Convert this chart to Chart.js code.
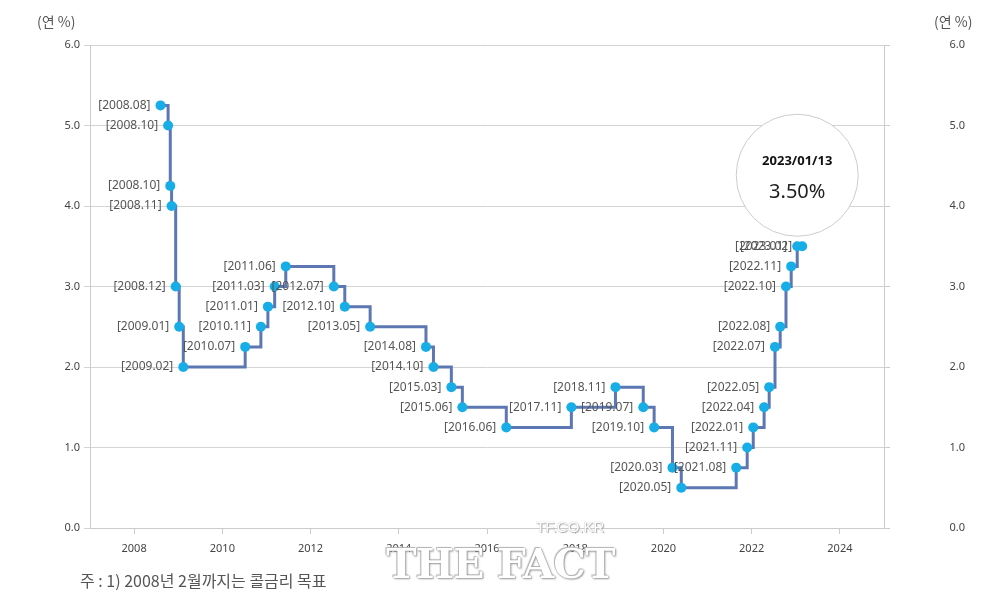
<!DOCTYPE html>
<html>
<head>
<meta charset="utf-8">
<script src="https://cdn.jsdelivr.net/npm/chart.js@4.4.0/dist/chart.umd.min.js"></script>
<style>
  body { margin: 0; background: #fff; font-family: "Noto Sans CJK KR", "Noto Sans", sans-serif; }
  #wrap { position: relative; width: 994px; height: 600px; }
  #note { position: absolute; left: 80px; top: 568px; font-size: 16px; color: #555; }
  .unit { position: absolute; top: 11px; font-size: 14px; color: #555; }
  #wm1 { position: absolute; left: 536px; top: 518px; font: 15px "Liberation Sans", sans-serif; color: #fff;
         text-shadow: 0 0 1px #999, 1px 1px 1px #aaa; }
  #wm2 { position: absolute; left: 386px; top: 540px; font: bold 41px "DejaVu Serif", serif; color: #fff; letter-spacing: -1px;
         text-shadow: 0 0 1px #777, 1px 1px 2px #999, -1px -1px 1px #bbb; }
</style>
</head>
<body>
<div id="wrap">
  <canvas id="rate-chart" width="994" height="600"></canvas>
  <div class="unit" style="left:37px">(연 %)</div>
  <div class="unit" style="left:934px">(연 %)</div>
  <div id="note">주 : 1) 2008년 2월까지는 콜금리 목표</div>
  <div id="wm1">TF.CO.KR</div>
  <div id="wm2">THE FACT</div>
</div>
<script>
// 기준금리 변경일
var dates = ['2008-08-07','2008-10-09','2008-10-27','2008-11-07','2008-12-11','2009-01-09','2009-02-12',
  '2010-07-09','2010-11-16','2011-01-13','2011-03-10','2011-06-10','2012-07-12','2012-10-11','2013-05-09',
  '2014-08-14','2014-10-15','2015-03-12','2015-06-11','2016-06-09','2017-11-30','2018-11-30','2019-07-18',
  '2019-10-16','2020-03-16','2020-05-28','2021-08-26','2021-11-25','2022-01-14','2022-04-14','2022-05-26',
  '2022-07-13','2022-08-25','2022-10-12','2022-11-24','2023-01-13','2023-02-23'];
// 금리 (연 %)
var rates = [5.25,5.00,4.25,4.00,3.00,2.50,2.00,
  2.25,2.50,2.75,3.00,3.25,3.00,2.75,2.50,
  2.25,2.00,1.75,1.50,1.25,1.50,1.75,1.50,
  1.25,0.75,0.50,0.75,1.00,1.25,1.50,1.75,
  2.25,2.50,3.00,3.25,3.50,3.50];
var yTicks = ['0.0','1.0','2.0','3.0','4.0','5.0','6.0'];
var xTicks = [2008,2010,2012,2014,2016,2018,2020,2022,2024];
var tipDate = '2023/01/13';
var tipValue = '3.50%';
var tipIndex = 35;

// 날짜 -> 소수 연도
function toYear(s) {
    var p = s.split('-');
    var y = +p[0];
    var d0 = Date.UTC(y, 0, 1), d1 = Date.UTC(y + 1, 0, 1);
    return y + (Date.UTC(y, p[1] - 1, p[2]) - d0) / (d1 - d0);
}
var points = dates.map(function(d, i) { return {x: toYear(d), y: rates[i]}; });
var pointLabels = dates.map(function(d) { return '[' + d.slice(0, 7).replace('-', '.') + ']'; });

// 점 옆 라벨 + 말풍선 원
var labelPlugin = {
    id: 'labels',
    afterDatasetsDraw: function(chart) {
        var ctx = chart.ctx;
        var meta = chart.getDatasetMeta(0);
        ctx.save();
        ctx.font = '12px "Noto Sans", sans-serif';
        ctx.fillStyle = '#555';
        ctx.textAlign = 'right';
        ctx.textBaseline = 'middle';
        meta.data.forEach(function(pt, i) {
            ctx.fillText(pointLabels[i], pt.x - 10, pt.y);
        });
        var p = meta.data[tipIndex];
        var cx = p.x, cy = p.y - 71;
        ctx.beginPath();
        ctx.arc(cx, cy, 61, 0, Math.PI * 2);
        ctx.fillStyle = '#fff';
        ctx.fill();
        ctx.strokeStyle = '#ccc';
        ctx.lineWidth = 1;
        ctx.stroke();
        ctx.textAlign = 'center';
        ctx.fillStyle = '#111';
        ctx.font = 'bold 13px "Noto Sans", sans-serif';
        ctx.fillText(tipDate, cx, cy - 14);
        ctx.fillStyle = '#222';
        ctx.font = '20px "Noto Sans", sans-serif';
        ctx.fillText(tipValue, cx, cy + 17);
        ctx.restore();
    }
};

var tickFont = {family: '"Noto Sans", sans-serif', size: 11};

new Chart(document.getElementById('rate-chart'), {
    type: 'line',
    data: {
        datasets: [{
            data: points,
            stepped: true,
            borderColor: '#5d77b3',
            borderWidth: 3,
            pointRadius: 5,
            pointBackgroundColor: '#17ade6',
            pointBorderWidth: 0,
            fill: false
        }]
    },
    options: {
        responsive: false,
        animation: false,
        layout: { padding: {top: 45, left: 0, right: 29, bottom: 0} },
        plugins: { legend: {display: false}, tooltip: {enabled: false} },
        scales: {
            x: {
                type: 'linear', min: 2007, max: 2025,
                afterBuildTicks: function(s) { s.ticks = xTicks.map(function(v) { return {value: v}; }); },
                afterFit: function(s) { s.height = 72; },
                ticks: { color: '#444', font: tickFont, padding: 8, callback: function(v) { return String(v); } },
                grid: { drawOnChartArea: false, tickLength: 6, color: '#ccc' },
                border: { color: '#ccc' }
            },
            y: {
                position: 'left', min: 0, max: 6,
                afterBuildTicks: function(s) { s.ticks = yTicks.map(function(v) { return {value: +v}; }); },
                afterFit: function(s) { s.width = 90; },
                ticks: { color: '#444', font: tickFont, padding: 4, callback: function(v, i) { return yTicks[i]; } },
                grid: { color: '#d4d4d4', tickLength: 6 },
                border: { color: '#ccc' }
            },
            y2: {
                position: 'right', min: 0, max: 6,
                afterBuildTicks: function(s) { s.ticks = yTicks.map(function(v) { return {value: +v}; }); },
                afterFit: function(s) { s.width = 81; },
                ticks: { color: '#444', font: tickFont, padding: 4, crossAlign: 'far', callback: function(v, i) { return yTicks[i]; } },
                grid: { drawOnChartArea: false, tickLength: 6, color: '#ccc' },
                border: { color: '#ccc' }
            }
        }
    },
    plugins: [labelPlugin]
});
</script>
</body>
</html>
